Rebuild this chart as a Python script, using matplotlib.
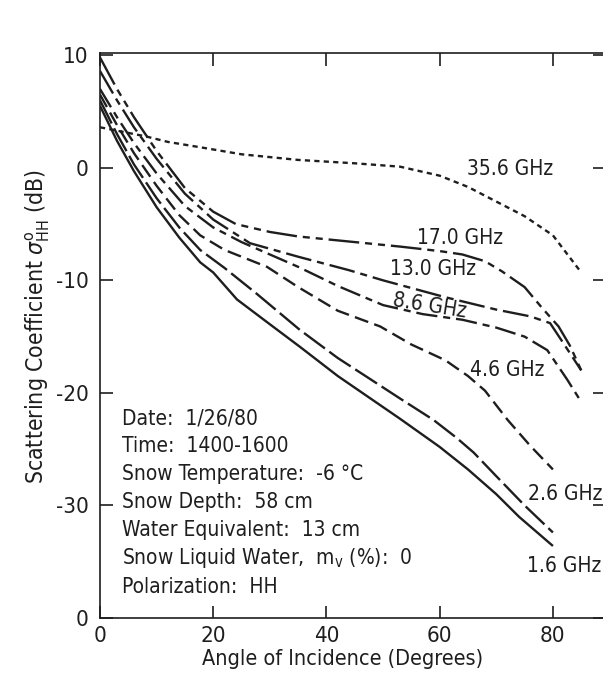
import matplotlib
matplotlib.use("Agg")
import matplotlib.pyplot as plt

plt.rcParams['font.family'] = ['DejaVu Sans']
plt.rcParams['font.stretch'] = 'condensed'
plt.rcParams['mathtext.fontset'] = 'dejavusans'

# ---- data ----
x_356 = [0, 4, 8, 12, 18, 25, 35, 45, 53, 60, 65, 70, 75, 80, 85]
y_356 = [3.6, 3.2, 2.8, 2.3, 1.8, 1.2, 0.7, 0.4, 0.1, -0.7, -1.7, -3.0, -4.3, -6.0, -9.3]

x_170 = [0, 3, 6, 10, 15, 20, 24, 30, 35, 45, 53, 60, 64, 68, 71, 75, 78, 81, 83, 85]
y_170 = [9.8, 7.0, 4.5, 1.5, -1.8, -3.9, -5.0, -5.7, -6.1, -6.6, -7.0, -7.4, -7.7, -8.3, -9.2, -10.6, -12.4, -14.1, -15.8, -18.0]

x_130 = [0, 3, 6, 10, 15, 20, 26.5, 35, 44, 50, 61, 70, 76, 79.5, 82, 85]
y_130 = [8.6, 6.0, 3.6, 0.8, -2.3, -4.6, -6.7, -7.9, -9.1, -10.0, -11.5, -12.6, -13.2, -13.8, -15.7, -18.0]

x_86 = [0, 3, 6, 10, 15, 20, 25, 35, 42, 50, 57, 64, 70, 75, 79, 82.5, 85]
y_86 = [7.0, 4.5, 2.2, -0.5, -3.4, -5.3, -6.6, -8.8, -10.5, -12.2, -13.0, -13.5, -14.2, -15.0, -16.2, -18.8, -20.8]

x_46 = [0, 3, 6, 10, 14, 17.7, 22, 29.5, 35, 42, 49.5, 55, 61, 65, 68, 72, 76, 80]
y_46 = [6.5, 3.8, 1.3, -1.6, -4.2, -6.0, -7.3, -8.8, -10.6, -12.7, -14.1, -15.7, -17.1, -18.5, -19.8, -22.4, -24.7, -26.8]

x_26 = [0, 3, 6, 10, 14, 17.7, 22, 27.7, 35.3, 42, 47.2, 53, 58.9, 63, 66, 70, 75, 80]
y_26 = [6.0, 3.0, 0.3, -2.7, -5.3, -7.3, -8.9, -11.2, -14.4, -16.9, -18.6, -20.5, -22.4, -24.0, -25.3, -27.4, -30.0, -32.4]

x_16 = [0, 3, 6, 10, 14, 17.7, 20, 24.2, 30, 35.3, 42, 53, 60, 65, 70, 74, 80]
y_16 = [5.5, 2.4, -0.3, -3.5, -6.2, -8.4, -9.3, -11.7, -13.9, -15.9, -18.5, -22.3, -24.8, -26.8, -29.0, -31.0, -33.6]

freq_labels = ["35.6 GHz", "17.0 GHz", "13.0 GHz", "8.6 GHz", "4.6 GHz", "2.6 GHz", "1.6 GHz"]
y_ticks = [10, 0, -10, -20, -30, -40]
y_tick_labels = ["10", "0", "-10", "-20", "-30", "0"]
x_ticks = [0, 20, 40, 60, 80]
x_tick_labels = ["0", "20", "40", "60", "80"]

info_lines = [
    "Date:  1/26/80",
    "Time:  1400-1600",
    "Snow Temperature:  -6 \u00b0C",
    "Snow Depth:  58 cm",
    "Water Equivalent:  13 cm",
    r"Snow Liquid Water,  m$_\mathrm{v}$ (%):  0",
    "Polarization:  HH",
]

# ---- figure ----
fig = plt.figure(figsize=(6.03, 6.76), dpi=100)
ax = fig.add_axes([100/603, 1-618/676, 505/603, (618-53)/676])
ax.set_xlim(0, 89.2)
ax.set_ylim(-40, 10.2)

c = '#1e1e1e'
lw = 1.7
series = [
    (x_356, y_356, (0, (2.2, 1.8))),
    (x_170, y_170, (0, (13, 2.5, 3, 2.5, 3, 2.5))),
    (x_130, y_130, (0, (11, 2.5, 3, 2.5))),
    (x_86, y_86, (0, (9, 2.5, 3, 2.5))),
    (x_46, y_46, (0, (6, 2.7))),
    (x_26, y_26, (0, (11, 2.3))),
    (x_16, y_16, '-'),
]
for xs, ys, ls in series:
    ax.plot(xs, ys, color=c, lw=lw, linestyle=ls, solid_capstyle='butt',
            dash_capstyle='butt', solid_joinstyle='round')

# curve labels
lab_pos = [(64.8, -0.1, 0), (56.0, -6.2, 0), (51.2, -9.0, 0), (51.5, -12.3, -9),
           (65.4, -18.0, 0), (75.6, -29.0, 0), (75.4, -35.4, 0)]
for t, (lx, ly, rot) in zip(freq_labels, lab_pos):
    ax.text(lx, ly, t, fontsize=15, color=c, ha='left', va='center', rotation=rot)

# info block
info_y = [418, 446, 474, 502, 530, 558, 587]
for t, py in zip(info_lines, info_y):
    fig.text(122/603, 1-py/676, t, fontsize=15, color=c, ha='left', va='center')

ax.set_xticks(x_ticks)
ax.set_xticklabels(x_tick_labels)
ax.set_yticks(y_ticks)
ax.set_yticklabels(y_tick_labels)
ax.tick_params(axis='both', direction='in', length=9, width=1.2, colors=c,
               labelsize=16, top=True, right=True)
ax.tick_params(axis='y', pad=8)
ax.tick_params(axis='x', pad=6)
for s in ax.spines.values():
    s.set_linewidth(1.2)
    s.set_color(c)

fig.text(343/603, 1-659/676, "Angle of Incidence (Degrees)", fontsize=15.5, color=c,
         ha='center', va='center')
fig.text(38/603, 1-326/676, r"Scattering Coefficient $\sigma^{\mathrm{o}}_{\mathrm{HH}}$ (dB)",
         fontsize=16.5, color=c, ha='center', va='center', rotation=90)

fig.savefig("out.png", dpi=100, facecolor='white')
